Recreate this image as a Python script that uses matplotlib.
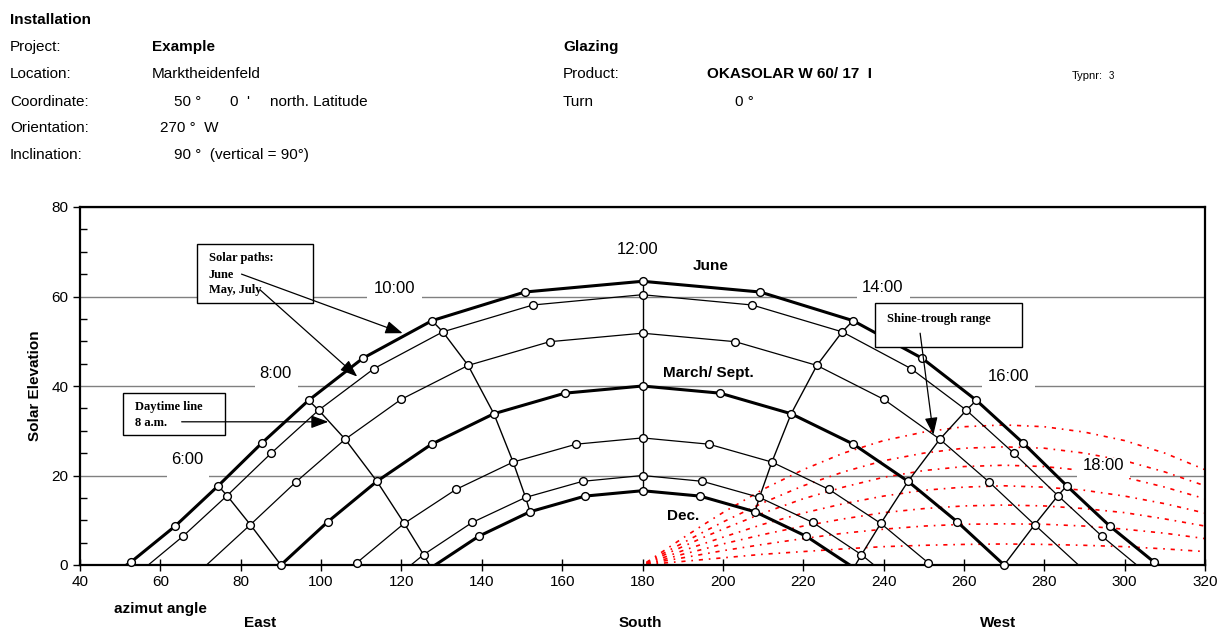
import numpy as np
import matplotlib
matplotlib.use("Agg")
import matplotlib.pyplot as plt
from matplotlib.patches import Rectangle
from matplotlib.ticker import MultipleLocator

plt.rcParams['font.family'] = ['Liberation Sans', 'DejaVu Sans']

# ---------------- data ----------------
# hours 3:00 ... 21:00 (solar time), one point per hour
hours = list(range(3, 22))

june_az = [40.8, 52.6, 63.7, 74.4, 85.2, 96.9, 110.4, 127.6, 150.7, 180.0,
           209.3, 232.4, 249.6, 263.1, 274.8, 285.6, 296.3, 307.4, 319.2]
june_alt = [-6.4, 0.6, 8.7, 17.7, 27.2, 36.8, 46.2, 54.6, 61.0, 63.4,
            61.0, 54.6, 46.2, 36.8, 27.2, 17.7, 8.7, 0.6, -6.4]

mayjul_az = [42.2, 54.3, 65.6, 76.6, 87.6, 99.4, 113.2, 130.3, 152.7, 180.0,
             207.3, 229.7, 246.8, 260.6, 272.4, 283.4, 294.4, 305.7, 317.8]
mayjul_alt = [-9.1, -2.0, 6.4, 15.5, 25.0, 34.6, 43.9, 52.1, 58.1, 60.4,
              58.1, 52.1, 43.9, 34.6, 25.0, 15.5, 6.4, -2.0, -9.1]

apraug_az = [46.3, 59.1, 71.0, 82.4, 93.8, 106.0, 119.9, 136.6, 156.9, 180.0,
             203.1, 223.4, 240.1, 254.0, 266.2, 277.6, 289.0, 300.9, 313.7]
apraug_alt = [-16.8, -9.1, -0.4, 9.0, 18.6, 28.1, 37.0, 44.6, 49.9, 51.8,
              49.9, 44.6, 37.0, 28.1, 18.6, 9.0, -0.4, -9.1, -16.8]

marsep_az = [52.5, 66.1, 78.4, 90.0, 101.6, 113.9, 127.5, 143.0, 160.7, 180.0,
             199.3, 217.0, 232.5, 246.1, 258.4, 270.0, 281.6, 293.9, 307.5]
marsep_alt = [-27.0, -18.7, -9.6, 0.0, 9.6, 18.7, 27.0, 33.8, 38.4, 40.0,
              38.4, 33.8, 27.0, 18.7, 9.6, 0.0, -9.6, -18.7, -27.0]

febokt_az = [59.9, 73.8, 86.1, 97.5, 108.9, 120.7, 133.6, 147.8, 163.5, 180.0,
             196.5, 212.2, 226.4, 239.3, 251.1, 262.5, 273.9, 286.2, 300.1]
febokt_alt = [-36.8, -28.0, -18.5, -8.9, 0.5, 9.3, 16.9, 23.0, 27.0, 28.4,
              27.0, 23.0, 16.9, 9.3, 0.5, -8.9, -18.5, -28.0, -36.8]

jannov_az = [66.5, 80.2, 92.1, 103.2, 114.1, 125.5, 137.6, 150.9, 165.1, 180.0,
             194.9, 209.1, 222.4, 234.5, 245.9, 256.8, 267.9, 279.8, 293.5]
jannov_alt = [-43.6, -34.3, -24.7, -15.2, -6.1, 2.3, 9.5, 15.1, 18.7, 20.0,
              18.7, 15.1, 9.5, 2.3, -6.1, -15.2, -24.7, -34.3, -43.6]

dec_az = [69.6, 83.1, 94.8, 105.6, 116.3, 127.4, 139.2, 152.0, 165.7, 180.0,
          194.3, 208.0, 220.8, 232.6, 243.7, 254.4, 265.2, 276.9, 290.4]
dec_alt = [-46.2, -36.8, -27.2, -17.7, -8.7, -0.6, 6.4, 11.9, 15.4, 16.6,
           15.4, 11.9, 6.4, -0.6, -8.7, -17.7, -27.2, -36.8, -46.2]

paths = [
    ("June", june_az, june_alt, True),
    ("May, July", mayjul_az, mayjul_alt, False),
    ("April, Aug.", apraug_az, apraug_alt, False),
    ("March/ Sept.", marsep_az, marsep_alt, True),
    ("Feb., Oct.", febokt_az, febokt_alt, False),
    ("Jan., Nov.", jannov_az, jannov_alt, False),
    ("Dec.", dec_az, dec_alt, True),
]

# daytime lines drawn through the paths
daytime_hours = [6, 8, 10, 12, 14, 16, 18]

# shine-through range (red curves)
range_az = [181, 183, 186, 190, 195, 200, 210, 220, 230, 240, 250, 260, 270,
            280, 290, 300, 310, 320]
range_alt = [
    [0.6, 1.8, 3.6, 6.0, 8.9, 11.7, 16.9, 21.3, 25.0, 27.8, 29.7, 30.9, 31.3, 30.9, 29.7, 27.8, 25.0, 21.3],
    [0.5, 1.5, 3.0, 4.9, 7.3, 9.6, 13.9, 17.7, 20.8, 23.3, 25.0, 26.1, 26.4, 26.1, 25.0, 23.3, 20.8, 17.7],
    [0.4, 1.2, 2.5, 4.1, 6.1, 8.0, 11.6, 14.8, 17.4, 19.6, 21.1, 22.0, 22.3, 22.0, 21.1, 19.6, 17.4, 14.8],
    [0.3, 1.0, 1.9, 3.2, 4.7, 6.2, 9.1, 11.6, 13.7, 15.4, 16.7, 17.4, 17.7, 17.4, 16.7, 15.4, 13.7, 11.6],
    [0.2, 0.7, 1.4, 2.4, 3.5, 4.7, 6.8, 8.7, 10.3, 11.7, 12.6, 13.2, 13.4, 13.2, 12.6, 11.7, 10.3, 8.7],
    [0.2, 0.5, 1.0, 1.6, 2.4, 3.2, 4.6, 5.9, 7.1, 8.0, 8.7, 9.1, 9.2, 9.1, 8.7, 8.0, 7.1, 5.9],
    [0.1, 0.2, 0.5, 0.8, 1.2, 1.6, 2.4, 3.0, 3.6, 4.1, 4.4, 4.6, 4.7, 4.6, 4.4, 4.1, 3.6, 3.0],
]

x_ticks = [40, 60, 80, 100, 120, 140, 160, 180, 200, 220, 240, 260, 280, 300, 320]
y_ticks = [0, 20, 40, 60, 80]

# ---------------- figure ----------------
W, H = 1225, 630
fig = plt.figure(figsize=(W / 100, H / 100), dpi=100)
ax = fig.add_axes([80 / W, 1 - 565 / H, 1125 / W, 358 / H])


def ftxt(x, y, s, **kw):
    kw.setdefault('fontsize', 11)
    kw.setdefault('va', 'center')
    fig.text(x / W, 1 - y / H, s, **kw)


# header
ftxt(10, 20, "Installation", fontweight='bold')
for yy, lab in zip([47, 74, 102, 128, 155],
                   ["Project:", "Location:", "Coordinate:", "Orientation:", "Inclination:"]):
    ftxt(10, yy, lab)
ftxt(152, 47, "Example", fontweight='bold')
ftxt(152, 74, "Marktheidenfeld")
ftxt(174, 102, "50 °")
ftxt(230, 102, "0  '")
ftxt(270, 102, "north. Latitude")
ftxt(160, 128, "270 °  W")
ftxt(174, 155, "90 °  (vertical = 90°)")
ftxt(563, 47, "Glazing", fontweight='bold')
ftxt(563, 74, "Product:")
ftxt(707, 74, "OKASOLAR W 60/ 17  I", fontweight='bold')
ftxt(1072, 76, "Typnr:", fontsize=8)
ftxt(1109, 76, "3", fontsize=7)
ftxt(563, 102, "Turn")
ftxt(735, 102, "0 °")

# axis labels
ftxt(35, 386, "Solar Elevation", fontweight='bold', rotation=90, ha='center')
ftxt(160, 609, "azimut angle", fontweight='bold', ha='center')
ftxt(260, 623, "East", fontweight='bold', ha='center')
ftxt(640, 623, "South", fontweight='bold', ha='center')
ftxt(998, 623, "West", fontweight='bold', ha='center')

# axes styling
ax.set_xlim(40, 320)
ax.set_ylim(0, 80)
ax.set_xticks(x_ticks)
ax.set_yticks(y_ticks)
ax.yaxis.set_minor_locator(MultipleLocator(5))
ax.tick_params(axis='x', which='major', direction='inout', length=9, width=1,
               labelsize=11, pad=3)
ax.tick_params(axis='y', which='major', direction='out', length=5, width=1,
               labelsize=11)
ax.tick_params(axis='y', which='minor', direction='in', length=5, width=1)
for sp in ax.spines.values():
    sp.set_linewidth(1.6)
ax.set_axisbelow(True)
ax.yaxis.grid(True, which='major', color='#808080', linewidth=1.0)

# shine-through range
for alts in range_alt:
    ax.plot(range_az, alts, color='#ff0000', linewidth=1.2,
            linestyle=(0, (2.5, 3.5, 1, 3.5)), zorder=1.8)

# daytime lines
for h in daytime_hours:
    i = hours.index(h)
    xs = [p[1][i] for p in paths]
    ys = [p[2][i] for p in paths]
    ax.plot(xs, ys, color='black', linewidth=1.0, zorder=2)

# solar paths
for name, az, alt, thick in paths:
    ax.plot(az, alt, color='black', linewidth=2.2 if thick else 0.9, zorder=2.2)
    alt_arr = np.array(alt)
    m_alt = np.ma.masked_where(alt_arr < 0, alt_arr)
    ax.plot(az, m_alt, linestyle='none', marker='o', markersize=5.6,
            markerfacecolor='white', markeredgecolor='black',
            markeredgewidth=1.0, zorder=3, clip_on=False)

# hour labels with gaps in gridlines
hour_labels = [
    ("6:00", 66.6, 23.5, 20, 61.7, 72.1),
    ("8:00", 88.7, 42.8, 40, 83.6, 94.3),
    ("10:00", 118.2, 61.7, 60, 111.4, 125.1),
    ("12:00", 178.7, 70.4, None, None, None),
    ("14:00", 239.8, 62.0, 60, 233.3, 246.6),
    ("16:00", 271.0, 42.2, 40, 264.4, 277.7),
    ("18:00", 294.7, 22.3, 20, 288.1, 301.3),
]
for lab, x, y, gy, g0, g1 in hour_labels:
    if gy is not None:
        ax.add_patch(Rectangle((g0, gy - 0.5), g1 - g0, y - gy + 2.2,
                               facecolor='white', edgecolor='none', zorder=4))
    ax.text(x, y, lab, fontsize=12, ha='center', va='center', zorder=5)

# month labels
ax.text(197.0, 66.8, "June", fontsize=11, fontweight='bold', ha='center', va='center')
ax.text(196.4, 42.8, "March/ Sept.", fontsize=11, fontweight='bold', ha='center', va='center')
ax.text(190.2, 11.0, "Dec.", fontsize=11, fontweight='bold', ha='center', va='center')

# annotation boxes
serif = dict(family=['Liberation Serif', 'DejaVu Serif'], fontweight='bold',
             fontsize=9, zorder=6)
boxes = [
    (69.0, 58.6, 98.0, 71.7),
    (50.6, 29.1, 76.1, 38.5),
    (237.9, 48.8, 274.4, 58.5),
]
for x0, y0, x1, y1 in boxes:
    ax.add_patch(Rectangle((x0, y0), x1 - x0, y1 - y0, facecolor='white',
                           edgecolor='black', linewidth=1.0, zorder=5.5))
ax.text(72.1, 68.5, "Solar paths:", va='center', **serif)
ax.text(72.1, 64.9, "June", va='center', **serif)
ax.text(72.1, 61.5, "May, July", va='center', **serif)
ax.text(53.7, 35.4, "Daytime line", va='center', **serif)
ax.text(53.7, 31.8, "8 a.m.", va='center', **serif)
ax.text(240.9, 55.0, "Shine-trough range", va='center', **serif)

arrows = [
    ((80.2, 65.0), (120.3, 51.8)),
    ((84.8, 61.5), (109.0, 42.1)),
    ((65.3, 32.0), (101.8, 32.0)),
    ((249.1, 51.8), (252.4, 29.1)),
]
for start, end in arrows:
    ax.annotate("", xy=end, xytext=start,
                arrowprops=dict(arrowstyle='-|>,head_length=0.75,head_width=0.28',
                                mutation_scale=14, color='black', lw=0.9,
                                shrinkA=0, shrinkB=0),
                zorder=7)

fig.savefig("out.png", dpi=100)
